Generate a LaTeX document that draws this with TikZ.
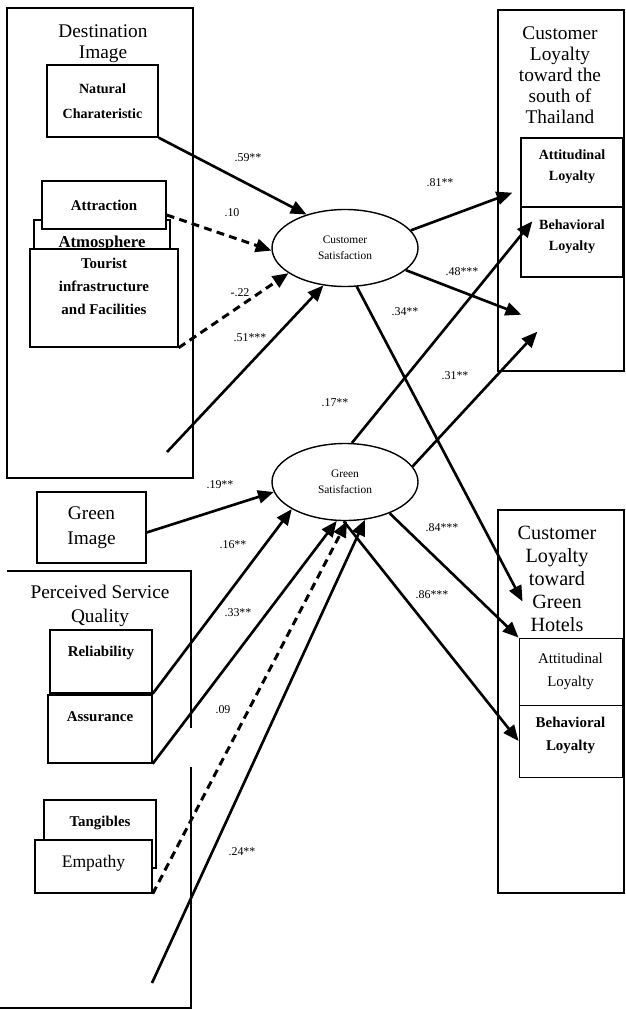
\documentclass[tikz,border=0pt]{standalone}
\usepackage{fontspec}
\setmainfont{Liberation Serif}
\usetikzlibrary{arrows.meta,shapes.geometric}

\begin{document}
\begin{tikzpicture}[x=0.02cm,y=-0.02cm,
  box/.style 2 args={draw,line width=0.8pt,fill=white,inner sep=1pt,align=center,
    minimum width=#1*0.02cm,minimum height=#2*0.02cm},
  lift/.style={text depth=#1},
  latent/.style={draw,ellipse,line width=0.8pt,fill=white,inner sep=0pt,align=center,
    minimum width=146*0.02cm,minimum height=77*0.02cm,font=\fontsize{6.5}{9}\selectfont},
  ttl/.style={align=center,font=\fontsize{11}{12}\selectfont},
  bsmall/.style={font={\bfseries\fontsize{8.5}{13}\selectfont}},
  coef/.style={font=\fontsize{6.8}{7}\selectfont,inner sep=0pt},
  arr/.style={line width=1.5pt,-{Triangle[length=9pt,width=7.5pt]}},
  arrd/.style={arr,line width=1.7pt,dash pattern=on 4.5pt off 3pt}]
\useasboundingbox (0,0) rectangle (625,1010);

% destination image
\node[box={186}{470},fill=none] (dest) at (100,243) {};
\node[ttl] (dest-t) at (103,44) {Destination\\Image};
\node[box={111}{72},font={\bfseries\fontsize{8}{14}\selectfont}] (natchar) at (102.5,101) {Natural\\Charateristic};
\node[box={136}{80}] (atmos) at (102,260) {};
\node[bsmall,font={\bfseries\fontsize{9.5}{10}\selectfont}] (atmos-t) at (102,243.5) {Atmosphere};
\node[box={124}{48},bsmall] (attr) at (104,205) {Attraction};
\node[box={148}{98},bsmall,lift=13pt] (tour) at (104,298) {Tourist\\infrastructure\\and Facilities};

% green image
\node[box={109}{71},font=\fontsize{11}{14}\selectfont] (gimg) at (91.5,527.5) {Green\\Image};

% perceived service quality
\draw[line width=0.8pt] (7,571) -- (191,571) -- (191,728);
\draw[line width=0.8pt] (191,767) -- (191,1008) -- (0,1008);
\node[ttl,font=\fontsize{11}{13.5}\selectfont] (psq-t) at (100,606) {Perceived Service\\Quality};
\node[box={102}{63},bsmall,lift=12pt] (reli) at (101,661.5) {Reliability};
\node[box={104}{68},bsmall,lift=14pt] (assu) at (100,729) {Assurance};
\node[box={112}{68},bsmall,lift=14pt] (tang) at (100,834) {Tangibles};
\node[box={117}{53},font=\fontsize{10}{12}\selectfont,lift=6pt] (empa) at (93.5,866.5) {Empathy};

% loyalty toward the south
\node[box={126}{361},fill=none] (loyS) at (561,190.5) {};
\node[ttl] (loyS-t) at (560,75) {Customer\\Loyalty\\toward the\\south of\\Thailand};
\node[box={102}{69},font={\bfseries\fontsize{8}{12}\selectfont},lift=8pt] (attS) at (572,172.5) {Attitudinal\\Loyalty};
\node[box={102}{70},font={\bfseries\fontsize{8}{12}\selectfont},lift=8pt] (behS) at (572,242) {Behavioral\\Loyalty};

% loyalty toward green hotels
\node[box={126}{383},fill=none] (loyG) at (561,701.5) {};
\node[ttl,font=\fontsize{11.5}{13}\selectfont] (loyG-t) at (557,579) {Customer\\Loyalty\\toward\\Green\\Hotels};
\node[box={103}{67},line width=0.5pt,font=\fontsize{8.5}{13}\selectfont] (attG) at (570.5,671.5) {Attitudinal\\Loyalty};
\node[box={103}{72},line width=0.5pt,font={\bfseries\fontsize{8.5}{13}\selectfont},lift=8pt] (behG) at (570.5,741) {Behavioral\\Loyalty};

% satisfaction
\node[latent] (cs) at (345,248) {Customer\\Satisfaction};
\node[latent] (gs) at (345,482) {Green\\Satisfaction};

\coordinate (s51) at (167,452);
\coordinate (s24) at (152,983);

% paths
\draw[arr] (natchar.south east) -- (cs.139);
\draw[arrd] ([yshift=-0.2cm]attr.east) -- (cs.182);
\draw[arrd] (tour.south east) -- (cs.204);
\draw[arr] (s51) -- (cs.240);
\draw[arr] (cs.15) -- ([shift={(-8,-15)}]attS.south west);
\draw[arr] (cs.340) -- ([shift={(1,37)}]behS.south west);
\draw[arr] (cs.287) -- ([shift={(4,-36)}]attG.north west);
\draw[arr] (gs.80) -- ([shift={(12,15)}]behS.north west);
\draw[arr] (gs.13) -- ([shift={(17,54)}]behS.south west);
\draw[arr] ([yshift=-0.1cm]gimg.east) -- (gs.188);
\draw[arr] (reli.south east) -- (gs.207);
\draw[arr] (assu.south east) -- (gs.258);
\draw[arrd] (empa.south east) -- (gs.273);
\draw[arr] (s24) -- (gs.298);
\draw[arr] (gs.325) -- (attG.north west);
\draw[arr] (gs.268) -- (behG.west);

\node[coef] (c59) at (248,158) {.59**};
\node[coef] (c10) at (232,213) {.10};
\node[coef] (c22) at (240,293) {-.22};
\node[coef] (c51) at (250,338) {.51***};
\node[coef] (c81) at (440,183) {.81**};
\node[coef] (c48) at (462,272) {.48***};
\node[coef] (c34) at (405,312) {.34**};
\node[coef] (c17) at (335,403) {.17**};
\node[coef] (c31) at (455,376) {.31**};
\node[coef] (c19) at (220,485) {.19**};
\node[coef] (c16) at (233,545) {.16**};
\node[coef] (c33) at (238,613) {.33**};
\node[coef] (c09) at (223,710) {.09};
\node[coef] (c24) at (242,852) {.24**};
\node[coef] (c84) at (442,528) {.84***};
\node[coef] (c86) at (432,595) {.86***};

\end{tikzpicture}
\end{document}
